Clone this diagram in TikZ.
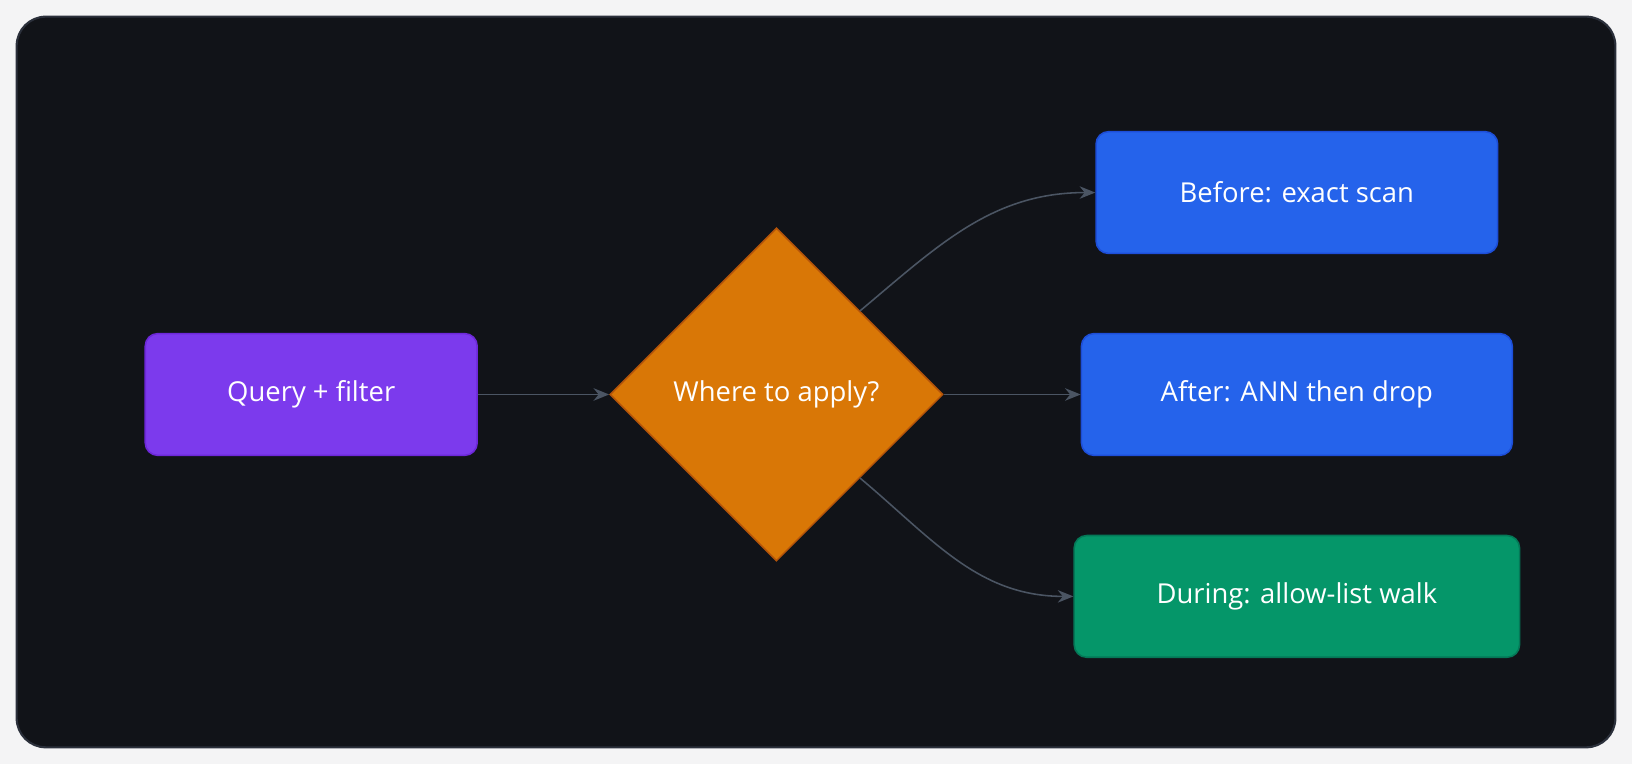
\documentclass[tikz,border=0pt]{standalone}
\usepackage{fontspec}
\setmainfont{Open Sans}
\usetikzlibrary{shapes.geometric,arrows.meta}
\definecolor{pagebg}{HTML}{F4F4F5}
\definecolor{panelbg}{HTML}{111318}
\definecolor{panelline}{HTML}{2B303B}
\definecolor{edgecol}{HTML}{4B5563}
\definecolor{purplefill}{HTML}{7C3AED}
\definecolor{purpleline}{HTML}{6D28D9}
\definecolor{orangefill}{HTML}{D97706}
\definecolor{orangeline}{HTML}{B45309}
\definecolor{bluefill}{HTML}{2563EB}
\definecolor{blueline}{HTML}{1D4ED8}
\definecolor{greenfill}{HTML}{059669}
\definecolor{greenline}{HTML}{047857}
\tikzset{
  box/.style={draw, line width=0.03cm, rounded corners=0.24cm, text=white,
    font=\fontsize{15}{18}\selectfont, minimum height=2.34cm, inner sep=0pt},
  edge/.style={draw=edgecol, line width=0.03cm, -{Stealth[length=0.3cm,width=0.24cm]}}
}
\begin{document}
\begin{tikzpicture}[x=0.02cm,y=-0.02cm]
  % page and panel
  \fill[pagebg] (0,0) rectangle (1568,734);
  \draw[fill=panelbg, draw=panelline, line width=0.04cm, rounded corners=0.56cm] (16,16) rectangle (1552,718);

  % nodes
  \node[box, fill=purplefill, draw=purpleline, minimum width=6.38cm] (query) at (299,379) {Query + filter};
  \node[draw=orangeline, fill=orangefill, shape=diamond, line width=0.03cm, text=white,
    font=\fontsize{15}{18}\selectfont, minimum width=6.4cm, minimum height=6.4cm, inner sep=0pt] (where) at (746,379) {Where to apply?};
  \node[box, fill=bluefill, draw=blueline, minimum width=7.72cm] (before) at (1246,185) {Before: exact scan};
  \node[box, fill=bluefill, draw=blueline, minimum width=8.28cm] (after) at (1246,379) {After: ANN then drop};
  \node[box, fill=greenfill, draw=greenline, minimum width=8.56cm] (during) at (1246,573) {During: allow-list walk};

  % connectors
  \draw[edge] (query) -- (where);
  \draw[edge] (where.north east) to[out=40,in=180] (before.west);
  \draw[edge] (where) -- (after);
  \draw[edge] (where.south east) to[out=-40,in=180] (during.west);
\end{tikzpicture}
\end{document}
